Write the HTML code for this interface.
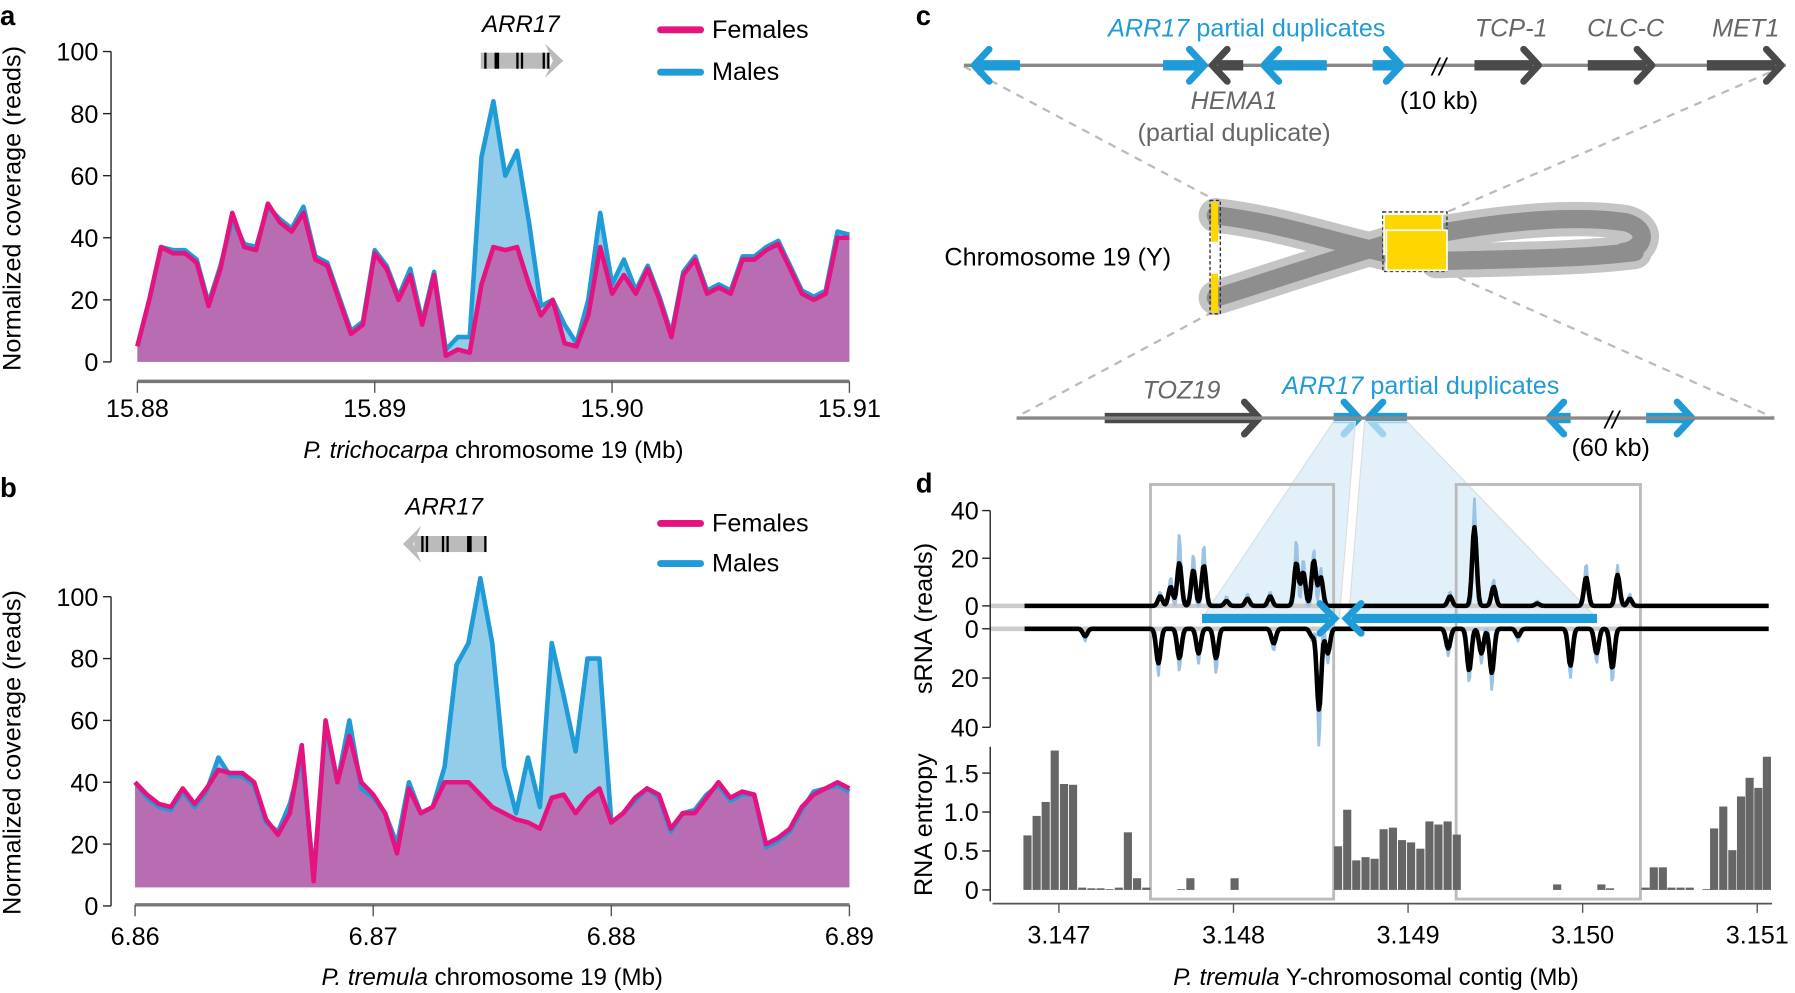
<!DOCTYPE html>
<html><head><meta charset="utf-8"><style>
html,body{margin:0;padding:0;background:#fff;}
svg{display:block;font-family:"Liberation Sans",sans-serif;}
</style></head><body>
<svg id="fig" xmlns="http://www.w3.org/2000/svg" width="1795" height="993" viewBox="0 0 1568 867" preserveAspectRatio="none">
<rect x="0" y="0" width="1568" height="867" fill="#fff"/>
<text x="0" y="22" font-size="24" font-weight="bold">a</text>
<text x="0" y="434" font-size="24" font-weight="bold">b</text>
<text x="800" y="22" font-size="24" font-weight="bold">c</text>
<text x="800" y="430" font-size="24" font-weight="bold">d</text>

<g id="panelA"></g>
<g id="panelB"></g>

<text transform="translate(18,182) rotate(-90)" text-anchor="middle" font-size="22">Normalized coverage (reads)</text>
<text x="431" y="400" text-anchor="middle" font-size="21"><tspan font-style="italic">P. trichocarpa</tspan> chromosome 19 (Mb)</text>
<text x="455" y="28" text-anchor="middle" font-size="21" font-style="italic">ARR17</text>
<g>
<rect x="420" y="46" width="60" height="14" fill="#bbb"/>
<polygon points="476,38 492,53 476,68 483,53" fill="#bbb"/>
<rect x="423" y="46" width="2" height="14" fill="#000"/><rect x="432" y="46" width="4" height="14" fill="#000"/>
<rect x="451" y="46" width="2" height="14" fill="#000"/><rect x="455" y="46" width="2" height="14" fill="#000"/>
<rect x="474" y="46" width="2" height="14" fill="#000"/><rect x="478" y="46" width="2" height="14" fill="#000"/>
</g>
<line x1="577" y1="26" x2="612" y2="26" stroke="#e6127f" stroke-width="6" stroke-linecap="round"/>
<text x="622" y="33" font-size="22">Females</text>
<line x1="577" y1="63" x2="612" y2="63" stroke="#1f9bd7" stroke-width="6" stroke-linecap="round"/>
<text x="622" y="70" font-size="22">Males</text>

<text transform="translate(18,657) rotate(-90)" text-anchor="middle" font-size="22">Normalized coverage (reads)</text>
<text x="430" y="860" text-anchor="middle" font-size="21"><tspan font-style="italic">P. tremula</tspan> chromosome 19 (Mb)</text>
<text x="388" y="449" text-anchor="middle" font-size="21" font-style="italic">ARR17</text>
<g>
<rect x="362" y="468" width="63" height="14" fill="#bbb"/>
<polygon points="368,459 352,475 368,491 361,475" fill="#bbb"/>
<rect x="368" y="468" width="2" height="14" fill="#000"/><rect x="372" y="468" width="2" height="14" fill="#000"/>
<rect x="386" y="468" width="2" height="14" fill="#000"/><rect x="390" y="468" width="2" height="14" fill="#000"/>
<rect x="408" y="468" width="4" height="14" fill="#000"/><rect x="423" y="468" width="2" height="14" fill="#000"/>
</g>
<line x1="577" y1="457" x2="612" y2="457" stroke="#e6127f" stroke-width="6" stroke-linecap="round"/>
<text x="622" y="464" font-size="22">Females</text>
<line x1="577" y1="492" x2="612" y2="492" stroke="#1f9bd7" stroke-width="6" stroke-linecap="round"/>
<text x="622" y="499" font-size="22">Males</text>

<g>
<g stroke="#bbb" stroke-width="2" stroke-dasharray="7,6" fill="none">
<line x1="842" y1="58" x2="1064" y2="176"/><line x1="1558" y1="58" x2="1262" y2="186"/>
<line x1="1060" y1="272" x2="888" y2="364"/><line x1="1262" y1="237" x2="1548" y2="364"/>
</g>
<line x1="842" y1="57" x2="1560" y2="57" stroke="#888" stroke-width="3"/>
<g id="geneArrows"></g>
<text x="1257" y="66" font-size="22" text-anchor="middle" font-style="italic" fill="#000">//</text>
<text x="968" y="32" font-size="22" fill="#1f9bd7"><tspan font-style="italic">ARR17</tspan> partial duplicates</text>
<text x="1320" y="32" font-size="22" fill="#666" font-style="italic" text-anchor="middle">TCP-1</text>
<text x="1420" y="32" font-size="22" fill="#666" font-style="italic" text-anchor="middle">CLC-C</text>
<text x="1525" y="32" font-size="22" fill="#666" font-style="italic" text-anchor="middle">MET1</text>
<text x="1078" y="95" font-size="22" fill="#666" font-style="italic" text-anchor="middle">HEMA1</text>
<text x="1078" y="123" font-size="22" fill="#666" text-anchor="middle">(partial duplicate)</text>
<text x="1257" y="95" font-size="22" text-anchor="middle">(10 kb)</text>
<g fill="none" stroke-linecap="round">
<path d="M1062,188 C1120,195 1160,210 1215,222 M1062,260 C1110,245 1160,228 1215,212 M1255,204 C1320,192 1380,188 1420,194 C1442,200 1436,218 1418,220 M1255,228 C1320,226 1380,226 1428,220" stroke="#c4c4c4" stroke-width="30"/>
<path d="M1062,188 C1120,195 1160,210 1215,222 M1062,260 C1110,245 1160,228 1215,212 M1255,204 C1320,192 1380,188 1420,194 C1442,200 1436,218 1418,220 M1255,228 C1320,226 1380,226 1428,220" stroke="#8e8e8e" stroke-width="16"/>
</g>
<rect x="1057" y="175" width="9" height="99" fill="none" stroke="#333" stroke-dasharray="3,2" stroke-width="1.2"/>
<rect x="1058" y="176" width="6" height="35" fill="#ffd700"/>
<rect x="1058" y="239" width="6" height="34" fill="#ffd700"/>
<rect x="1208" y="185" width="56" height="52" fill="none" stroke="#333" stroke-dasharray="3,2" stroke-width="1.2"/>
<rect x="1209" y="187" width="51" height="35" fill="#ffd700" stroke="#fff" stroke-width="1.5"/>
<rect x="1211" y="201" width="53" height="35" fill="#ffd700" stroke="#fff" stroke-width="1.5"/>
<text x="825" y="232" font-size="22">Chromosome 19 (Y)</text>
<line x1="888" y1="365" x2="1550" y2="365" stroke="#888" stroke-width="3"/>
<text x="1408" y="374" font-size="22" text-anchor="middle" font-style="italic">//</text>
<text x="1032" y="348" font-size="22" fill="#666" font-style="italic" text-anchor="middle">TOZ19</text>
<text x="1120" y="344" font-size="22" fill="#1f9bd7"><tspan font-style="italic">ARR17</tspan> partial duplicates</text>
<text x="1407" y="398" font-size="22" text-anchor="middle">(60 kb)</text>
</g>

<g id="panelD"></g>
<text transform="translate(814,540) rotate(-90)" text-anchor="middle" font-size="22">sRNA (reads)</text>
<text transform="translate(814,720) rotate(-90)" text-anchor="middle" font-size="22">RNA entropy</text>
<text x="1202" y="860" text-anchor="middle" font-size="21"><tspan font-style="italic">P. tremula</tspan> Y-chromosomal contig (Mb)</text>
</svg>
<script>
// ---------- DATA ----------
const covA_start = 15.880, covA_step = 0.0005;
const covA_females = [5,20,37,35,35,32,18,30,48,37,36,51,45,42,48,33,31,20,9,12,35,30,20,28,12,28,2,4,3,25,37,36,37,25,15,20,6,5,15,37,22,28,22,30,20,8,28,33,22,24,22,33,33,36,38,30,22,20,22,40,40];
const covA_males   = [5,20,37,36,36,33,19,31,46,38,37,50,46,43,50,34,32,21,10,13,36,31,21,30,13,29,4,8,8,66,84,60,68,45,18,20,12,6,20,48,25,33,23,31,21,9,29,34,23,25,23,34,34,37,39,31,23,21,23,42,41];
const covA_ticks = [15.88,15.89,15.90,15.91];
const covA_tickLabels = ["15.88","15.89","15.90","15.91"];
const covB_start = 6.860, covB_step = 0.0005;
const covB_females = [40,36,33,32,38,33,38,44,43,43,40,28,23,30,52,8,60,40,55,40,36,30,17,38,30,32,40,40,40,36,32,30,28,27,25,35,36,30,35,38,27,30,35,38,36,25,30,30,35,40,35,37,36,20,22,25,32,36,38,40,38];
const covB_males   = [40,35,32,31,37,32,37,48,42,42,39,27,24,33,48,10,58,40,60,38,35,30,20,40,30,32,45,78,85,106,85,45,30,48,32,85,68,50,80,80,27,30,34,38,35,24,30,31,36,39,34,36,36,19,21,24,31,37,38,39,37];
const covB_ticks = [6.86,6.87,6.88,6.89];
const covB_tickLabels = ["6.86","6.87","6.88","6.89"];
const cov_yTicks = [0,20,40,60,80,100];

const srnaPlus_pos  = [3.14758,3.14764,3.14769,3.14777,3.14783,3.14796,3.14808,3.14821,3.14836,3.14840,3.14846,3.14850,3.14924,3.14938,3.14949,3.14974,3.15002,3.15020,3.15027];
const srnaPlus_val  = [4,8,18,15,17,2,3,4,18,14,19,12,4,33,8,1,12,13,3];
const srnaPlus_max  = [6,12,30,22,26,4,5,6,28,20,24,16,6,45,11,2,18,17,5];
const srnaMinus_pos = [3.14715,3.14757,3.14769,3.14780,3.14790,3.14823,3.14845,3.14849,3.14854,3.14923,3.14935,3.14942,3.14948,3.14963,3.14993,3.15008,3.15017];
const srnaMinus_val = [3,14,12,10,12,6,3,33,10,8,17,10,18,3,15,10,16];
const srnaMinus_max = [5,19,17,14,18,9,5,48,14,11,22,14,25,5,20,14,22];
const entropy_pos = [3.146797,3.146849,3.146901,3.146953,3.147006,3.147058,3.147110,3.147163,3.147215,3.147267,3.147320,3.147372,3.147424,3.147477,3.147677,3.147730,3.147983,3.148576,3.148628,3.148680,3.148733,3.148785,3.148837,3.148890,3.148942,3.148994,3.149047,3.149099,3.149151,3.149203,3.149256,3.149831,3.150084,3.150134,3.150337,3.150384,3.150436,3.150485,3.150538,3.150590,3.150686,3.150730,3.150782,3.150834,3.150884,3.150933,3.150983,3.151032];
const entropy_val = [0.70,0.95,1.13,1.79,1.36,1.35,0.03,0.02,0.02,0.01,0.03,0.74,0.15,0.03,0.01,0.15,0.15,0.56,1.03,0.38,0.42,0.40,0.78,0.80,0.64,0.61,0.53,0.88,0.84,0.88,0.71,0.07,0.07,0.02,0.03,0.29,0.29,0.03,0.03,0.03,0.01,0.79,1.07,0.51,1.20,1.44,1.31,1.71];
const d_xTicks = [3.147,3.148,3.149,3.150,3.151];
const d_xTickLabels = ["3.147","3.148","3.149","3.150","3.151"];
const d_srnaTicks = [0,20,40];
const d_entTicks = [0,0.5,1.0,1.5];
const d_entTickLabels = ["0","0.5","1.0","1.5"];

// ---------- HELPERS ----------
const NS = "http://www.w3.org/2000/svg";
function mk(tag, attrs, parent){ const e=document.createElementNS(NS,tag); for(const k in attrs) e.setAttribute(k,attrs[k]); parent.appendChild(e); return e; }

function coverage(g, start, step, fem, mal, xs, ys, base, ticks, tickLabels, axisY, labelY){
  const ptsF = fem.map((v,i)=>[xs(start+i*step), ys(v)]);
  const ptsM = mal.map((v,i)=>[xs(start+i*step), ys(v)]);
  const x0 = ptsF[0][0], x1 = ptsF[ptsF.length-1][0], yb = ys(base);
  const toD = p=>p.map((q,i)=>(i?'L':'M')+q[0].toFixed(1)+','+q[1].toFixed(1)).join('');
  const aM = mk('path',{d:toD(ptsM)+'L'+x1+','+yb+'L'+x0+','+yb+'Z', fill:'#93cdea'}, g);
  
  
  const aF = mk('path',{d:toD(ptsF)+'L'+x1+','+yb+'L'+x0+','+yb+'Z', fill:'#b86db3'}, g);
  
  
  const lM = mk('path',{d:toD(ptsM), fill:'none', stroke:'#1f9bd7','stroke-width':4,'stroke-linejoin':'round'}, g);
  
  
  const lF = mk('path',{d:toD(ptsF), fill:'none', stroke:'#e6127f','stroke-width':4,'stroke-linejoin':'round'}, g);
  
  
  const ya = mk('line',{x1:97,x2:97,y1:ys(100),y2:ys(0),stroke:'#222','stroke-width':1.2}, g);
  
  
  cov_yTicks.forEach(t=>{
    const tk = mk('line',{x1:90,x2:97,y1:ys(t),y2:ys(t),stroke:'#222','stroke-width':1.2}, g);
    
    
    const tl = mk('text',{x:86,y:ys(t)+8,'text-anchor':'end','font-size':22}, g);
    tl.textContent = String(t);
    
    
  });
  const xa = mk('line',{x1:xs(ticks[0]),x2:xs(ticks[ticks.length-1]),y1:axisY,y2:axisY,stroke:'#777','stroke-width':3}, g);
  
  
  ticks.forEach((t,i)=>{
    const tk = mk('line',{x1:xs(t),x2:xs(t),y1:axisY,y2:axisY+10,stroke:'#555','stroke-width':1.2}, g);
    
    
    const tl = mk('text',{x:xs(t),y:labelY,'text-anchor':'middle','font-size':22}, g);
    tl.textContent = tickLabels[i];
    
    
  });
}

const xA = mb => 120 + (mb-15.88)/0.03*622;
const yA = v => 316 - v*2.71;
coverage(document.getElementById('panelA'), covA_start, covA_step, covA_females, covA_males, xA, yA, 0, covA_ticks, covA_tickLabels, 333, 364);
const xB = mb => 118 + (mb-6.86)/0.03*624;
const yB = v => 791 - v*2.7;
coverage(document.getElementById('panelB'), covB_start, covB_step, covB_females, covB_males, xB, yB, 6, covB_ticks, covB_tickLabels, 790, 825);

const ga = document.getElementById('geneArrows');
function arrow(stemFrom, head, y, color, name){
  const dir = head > stemFrom ? 1 : -1;
  const g = mk('g',{}, ga);
  
  
  mk('line',{x1:stemFrom,x2:head-dir*5,y1:y,y2:y,stroke:color,'stroke-width':9}, g);
  mk('polyline',{points:(head-dir*13)+','+(y-14)+' '+head+','+y+' '+(head-dir*13)+','+(y+14),fill:'none',stroke:color,'stroke-width':6,'stroke-linecap':'round','stroke-linejoin':'round'}, g);
}
const BL='#1f9bd7', DK='#4a4a4a';
arrow(891,851,57,BL,'arr17-duplicate-arrow-1');
arrow(1016,1052,57,BL,'arr17-duplicate-arrow-2');
arrow(1086,1059,57,DK,'hema1-arrow');
arrow(1159,1104,57,BL,'arr17-duplicate-arrow-3');
arrow(1199,1224,57,BL,'arr17-duplicate-arrow-4');
arrow(1288,1344,57,DK,'tcp1-arrow');
arrow(1387,1443,57,DK,'clcc-arrow');
arrow(1491,1556,57,DK,'met1-arrow');
arrow(965,1100,365,DK,'toz19-arrow');
arrow(1165,1187,365,BL,'arr17-bottom-arrow-1');
arrow(1229,1195,365,BL,'arr17-bottom-arrow-2');
arrow(1372,1353,365,BL,'arr17-bottom-arrow-3');
arrow(1438,1478,365,BL,'arr17-bottom-arrow-4');

const gd = document.getElementById('panelD');
const xD = mb => 925 + (mb-3.147)*152500;
const yPlus = v => 529 - v*2.08;
const yMinus = v => 549 + v*2.15;
const yEnt = v => 777 - v*68;
const sh1 = mk('polygon',{points:'1165,368 1184,368 1170,540 1050,540',fill:'#d6ebf7','fill-opacity':0.7,stroke:'#ddd','stroke-width':1}, gd);


const sh2 = mk('polygon',{points:'1192,368 1229,368 1395,540 1178,540',fill:'#d6ebf7','fill-opacity':0.7,stroke:'#ddd','stroke-width':1}, gd);


[[1005,1165],[1272,1433]].forEach((b,i)=>{
  const r = mk('rect',{x:b[0],y:423,width:b[1]-b[0],height:362,fill:'none',stroke:'#bbb','stroke-width':2.5}, gd);
  
  
});
function track(pos, vals, ys, color, width, sig, name){
  let d='';
  for(let x=895; x<=1545; x+=1){
    const mb = 3.147 + (x-925)/152500;
    let v=0;
    for(let k=0;k<pos.length;k++){ const z=(mb-pos[k])/sig; v+=vals[k]*Math.exp(-z*z); }
    d += (x===895?'M':'L')+x+','+ys(v).toFixed(1);
  }
  const p = mk('path',{d:d,fill:'none',stroke:color,'stroke-width':width,'stroke-linejoin':'round'}, gd);
  
  
}
const bl1 = mk('line',{x1:865,x2:1545,y1:529,y2:529,stroke:'#ccc','stroke-width':4}, gd);


const bl2 = mk('line',{x1:865,x2:1545,y1:549,y2:549,stroke:'#ccc','stroke-width':4}, gd);


track(srnaPlus_pos, srnaPlus_max, yPlus, '#9cc3e6', 2.5, 0.000012, 'srna-plus-envelope');
track(srnaMinus_pos, srnaMinus_max, yMinus, '#9cc3e6', 2.5, 0.000012, 'srna-minus-envelope');
track(srnaPlus_pos, srnaPlus_val, yPlus, '#000', 4, 0.000018, 'srna-plus-line');
track(srnaMinus_pos, srnaMinus_val, yMinus, '#000', 4, 0.000018, 'srna-minus-line');
function dArrow(from, head, name){
  const dir = head>from?1:-1, y=540;
  const g = mk('g',{}, gd);
  
  
  mk('line',{x1:from,x2:head-dir*5,y1:y,y2:y,stroke:BL,'stroke-width':8}, g);
  mk('polyline',{points:(head-dir*13)+','+(y-13)+' '+head+','+y+' '+(head-dir*13)+','+(y+13),fill:'none',stroke:BL,'stroke-width':6,'stroke-linecap':'round'}, g);
}
dArrow(1050,1166,'duplicate-arrow-forward');
dArrow(1395,1176,'duplicate-arrow-reverse');
entropy_pos.forEach((p,i)=>{
  const x = xD(p), w = 0.0000465*152500;
  const r = mk('rect',{x:x.toFixed(1),y:yEnt(entropy_val[i]).toFixed(1),width:w.toFixed(1),height:(yEnt(0)-yEnt(entropy_val[i])).toFixed(1),fill:'#666'}, gd);
  
  
});
const ay1 = mk('line',{x1:865,x2:865,y1:yPlus(40),y2:yMinus(40),stroke:'#222','stroke-width':1.2}, gd);


d_srnaTicks.forEach(t=>{
  [yPlus(t), yMinus(t)].forEach(yy=>{
    const tk = mk('line',{x1:858,x2:865,y1:yy,y2:yy,stroke:'#222','stroke-width':1.2}, gd);
    
    
    const tl = mk('text',{x:855,y:yy+8,'text-anchor':'end','font-size':22}, gd);
    tl.textContent = String(t);
    
    
  });
});
const ay2 = mk('line',{x1:865,x2:865,y1:652,y2:787,stroke:'#222','stroke-width':1.2}, gd);


d_entTicks.forEach((t,i)=>{
  const tk = mk('line',{x1:858,x2:865,y1:yEnt(t),y2:yEnt(t),stroke:'#222','stroke-width':1.2}, gd);
  
  
  const tl = mk('text',{x:855,y:yEnt(t)+8,'text-anchor':'end','font-size':22}, gd);
  tl.textContent = d_entTickLabels[i];
  
  
});
const axd = mk('line',{x1:867,x2:1548,y1:789,y2:789,stroke:'#555','stroke-width':1.5}, gd);


d_xTicks.forEach((t,i)=>{
  const tk = mk('line',{x1:xD(t),x2:xD(t),y1:789,y2:797,stroke:'#555','stroke-width':1.2}, gd);
  
  
  const tl = mk('text',{x:xD(t),y:824,'text-anchor':'middle','font-size':22}, gd);
  tl.textContent = d_xTickLabels[i];
  
  
});
</script>
</body></html>
